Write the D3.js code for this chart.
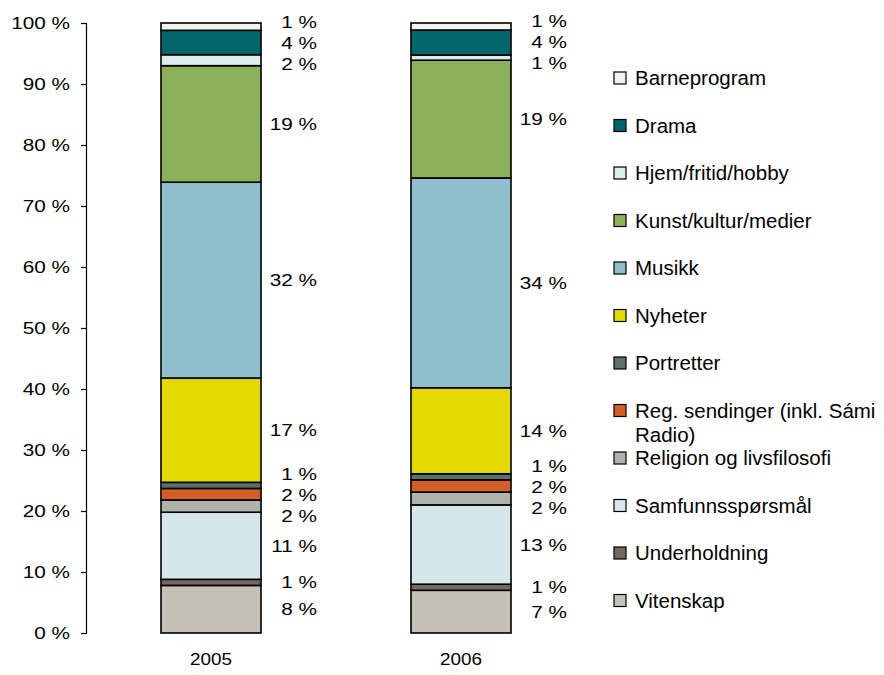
<!DOCTYPE html>
<html>
<head>
<meta charset="utf-8">
<script src="https://cdn.jsdelivr.net/npm/d3@7"></script>
<style>
  html, body { margin: 0; padding: 0; background: #fff; }
  svg { display: block; font-family: "Liberation Sans", Arial, sans-serif; }
</style>
</head>
<body>
<svg id="chart" width="884" height="675"></svg>
<script>
// ---- data ----
const years = ["2005", "2006"];
const categories = [
  "Vitenskap", "Underholdning", "Samfunnsspørsmål", "Religion og livsfilosofi",
  "Reg. sendinger (inkl. Sámi Radio)", "Portretter", "Nyheter", "Musikk",
  "Kunst/kultur/medier", "Hjem/fritid/hobby", "Drama", "Barneprogram"
];
const values2005 = [7.8, 1.0, 11.0, 2.0, 1.9, 1.0, 17.1, 32.1, 19.1, 1.8, 4.0, 1.2];
const values2006 = [7.0, 1.0, 13.0, 2.1, 2.0, 1.0, 14.1, 34.4, 19.3, 0.85, 4.1, 1.15];
const labels2005 = ["8 %", "1 %", "11 %", "2 %", "2 %", "1 %", "17 %", "32 %", "19 %", "2 %", "4 %", "1 %"];
const labels2006 = ["7 %", "1 %", "13 %", "2 %", "2 %", "1 %", "14 %", "34 %", "19 %", "1 %", "4 %", "1 %"];
const colors = [
  "#c5c1b9", "#75695b", "#d5e7eb", "#aeb4a9", "#d35e27", "#5b706d",
  "#e3d900", "#8fbfcc", "#8db15b", "#dcecec", "#00666a", "#f2f2ee"
];
const yTicks = [0, 10, 20, 30, 40, 50, 60, 70, 80, 90, 100];
const yTickLabels = ["0 %", "10 %", "20 %", "30 %", "40 %", "50 %", "60 %", "70 %", "80 %", "90 %", "100 %"];

// ---- layout ----
const svg = d3.select("#chart");
const margin = { left: 86, right: 298, top: 23, bottom: 42 };
const W = 884, H = 675;
const SX = 1.22; // horizontal stretch of small text
const x = d3.scaleBand().domain(years).range([margin.left, W - margin.right]).paddingInner(0.6).paddingOuter(0.3);
const y = d3.scaleLinear().domain([0, 100]).range([H - margin.bottom, margin.top]);

const seriesValues = { "2005": values2005, "2006": values2006 };
const seriesLabels = { "2005": labels2005, "2006": labels2006 };

const rows = years.map(yr => {
  const r = { year: yr };
  categories.forEach((c, i) => r[c] = seriesValues[yr][i]);
  return r;
});
const stacked = d3.stack().keys(categories)(rows);

// bars
const g = svg.append("g");
stacked.forEach((layer, li) => {
  g.selectAll(null).data(layer).enter().append("rect")
    .attr("x", d => x(d.data.year))
    .attr("width", x.bandwidth())
    .attr("y", d => y(d[1]))
    .attr("height", d => y(d[0]) - y(d[1]))
    .attr("fill", colors[li])
    .attr("stroke", "#000")
    .attr("stroke-width", 1.6);
});

// y axis
const yAxis = d3.axisLeft(y).tickValues(yTicks).tickFormat((d, i) => yTickLabels[i]).tickSize(5).tickPadding(11);
const ya = svg.append("g").attr("transform", `translate(${margin.left},0)`).call(yAxis);
ya.select(".domain").attr("stroke", "#000").attr("stroke-width", 1.2);
ya.selectAll(".tick line").attr("stroke", "#000").attr("stroke-width", 1.2);
ya.selectAll(".tick text").attr("font-size", 17).attr("fill", "#000")
  .attr("font-family", "'Liberation Sans', Arial, sans-serif")
  .attr("x", 0)
  .attr("transform", `translate(-16,0) scale(${SX},1)`);

// x labels
svg.selectAll(".xlab").data(years).enter().append("text")
  .attr("transform", d => `translate(${x(d) + x.bandwidth() / 2},${H - 10}) scale(1.18,1)`)
  .attr("text-anchor", "middle")
  .attr("font-size", 16)
  .text(d => d);

// data labels with collision avoidance
const gap = 21;
years.forEach((yr, yi) => {
  const items = categories.map((c, i) => {
    const seg = stacked[i][yi];
    return { target: (y(seg[0]) + y(seg[1])) / 2, text: seriesLabels[yr][i] };
  }).sort((a, b) => a.target - b.target);
  let clusters = items.map(it => ({ items: [it] }));
  const place = cl => {
    const mean = d3.mean(cl.items, d => d.target);
    const n = cl.items.length;
    cl.top = mean - (n - 1) * gap / 2;
    cl.items.forEach((it, k) => it.pos = cl.top + k * gap);
    cl.bottom = cl.top + (n - 1) * gap;
  };
  clusters.forEach(place);
  let changed = true;
  while (changed) {
    changed = false;
    for (let k = 0; k < clusters.length - 1; k++) {
      if (clusters[k + 1].top - clusters[k].bottom < gap - 0.01) {
        clusters[k].items = clusters[k].items.concat(clusters[k + 1].items);
        clusters.splice(k + 1, 1);
        place(clusters[k]);
        changed = true;
        break;
      }
    }
  }
  const xr = x(yr) + x.bandwidth() + 56;
  svg.selectAll(null).data(items).enter().append("text")
    .attr("transform", d => `translate(${xr},${d.pos}) scale(${SX},1)`)
    .attr("dy", "0.36em")
    .attr("text-anchor", "end")
    .attr("font-size", 17)
    .text(d => d.text);
});

// legend
const legendOrder = categories.slice().reverse();
const legendColors = colors.slice().reverse();
const legX = 614, legY0 = 78, legStep = 47.5, maxW = 252;
const lg = svg.append("g");
legendOrder.forEach((name, i) => {
  const cy = legY0 + i * legStep;
  lg.append("rect").attr("x", legX).attr("y", cy - 6).attr("width", 12).attr("height", 12)
    .attr("fill", legendColors[i]).attr("stroke", "#000").attr("stroke-width", 1.2);
  const t = lg.append("text").attr("x", legX + 21).attr("y", cy).attr("dy", "0.36em").attr("font-size", 20.5);
  const words = name.split(" ");
  let line = [];
  let tspan = t.append("tspan").attr("x", legX + 21);
  words.forEach(w => {
    line.push(w);
    tspan.text(line.join(" "));
    if (tspan.node().getComputedTextLength() > maxW && line.length > 1) {
      line.pop();
      tspan.text(line.join(" "));
      line = [w];
      tspan = t.append("tspan").attr("x", legX + 21).attr("dy", "24px").text(w);
    }
  });
});
</script>
</body>
</html>
